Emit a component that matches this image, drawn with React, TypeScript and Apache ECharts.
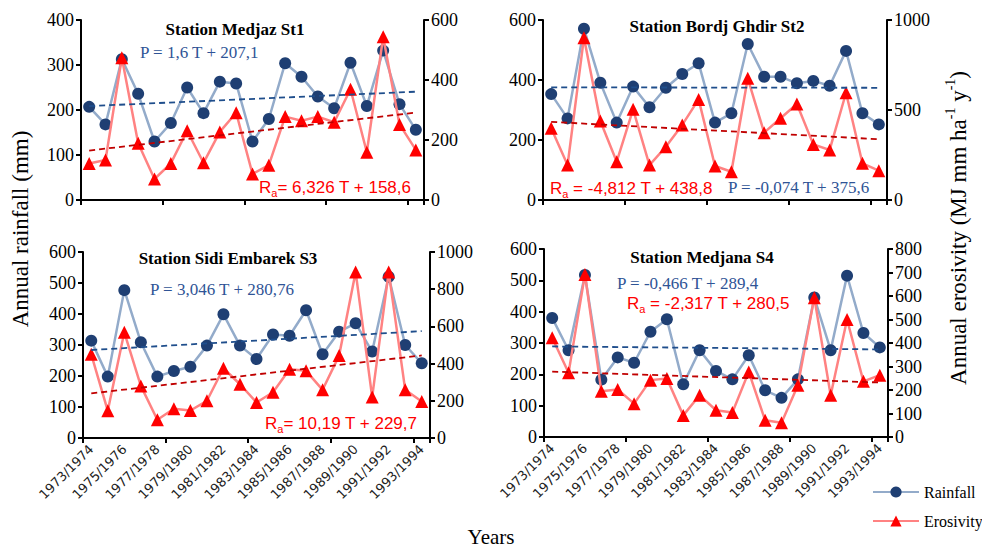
import React, { useEffect, useRef } from "react";
import * as echarts from "echarts";

const years = [
  "1973/1974", "1974/1975", "1975/1976", "1976/1977", "1977/1978", "1978/1979", "1979/1980",
  "1980/1981", "1981/1982", "1982/1983", "1983/1984", "1984/1985", "1985/1986", "1986/1987",
  "1987/1988", "1988/1989", "1989/1990", "1990/1991", "1991/1992", "1992/1993", "1993/1994",
];

const medjazRain = [207, 168, 313, 236, 130, 171, 250, 193, 263, 259, 130, 180, 304, 274, 230, 204, 305, 209, 332, 213, 156];
const medjazEro = [122, 133, 474, 189, 70, 122, 231, 124, 227, 291, 87, 116, 278, 264, 278, 259, 369, 159, 544, 252, 167];
const bordjRain = [353, 272, 571, 391, 258, 378, 309, 374, 420, 456, 258, 289, 520, 411, 411, 389, 397, 381, 497, 289, 252];
const bordjEro = [398, 194, 902, 439, 213, 504, 194, 296, 417, 559, 189, 157, 676, 374, 454, 533, 309, 278, 596, 204, 163];
const sidiRain = [314, 198, 477, 309, 198, 216, 230, 298, 399, 298, 255, 334, 330, 412, 270, 343, 370, 279, 520, 300, 241];
const sidiEro = [450, 146, 568, 280, 98, 157, 148, 200, 375, 289, 191, 246, 370, 361, 259, 443, 893, 220, 893, 259, 196];
const medjanaRain = [380, 277, 517, 183, 254, 237, 336, 376, 168, 277, 211, 184, 261, 149, 125, 184, 445, 277, 515, 332, 286];
const medjanaEro = [422, 273, 692, 195, 202, 142, 242, 249, 92, 178, 114, 104, 277, 71, 61, 220, 593, 178, 500, 237, 263];

// trend equations [slope, intercept] as printed on the chart (T = 1..21)
const medjazTrendP = [1.6, 207.1];
const medjazTrendR = [6.326, 158.6];
const bordjTrendP = [-0.074, 375.6];
const bordjTrendR = [-4.812, 438.8];
const sidiTrendP = [3.046, 280.76];
const sidiTrendR = [10.19, 229.7];
const medjanaTrendP = [-0.466, 289.4];
const medjanaTrendR = [-2.317, 280.5];

const titles = ["Station Medjaz St1", "Station Bordj Ghdir St2", "Station Sidi Embarek S3", "Station Medjana S4"];
const leftMax = [400, 600, 600, 600];
const leftInterval = [100, 200, 100, 100];
const rightMax = [600, 1000, 1000, 800];
const rightInterval = [200, 500, 200, 100];

const SERIF = "'Liberation Serif', 'Times New Roman', serif";
const SANS = "'Liberation Sans', Arial, sans-serif";
const RAIN_LINE = "#93ABCA";
const RAIN_MARK = "#1F3F73";
const ERO_LINE = "#FF8282";
const ERO_MARK = "#FF0000";
const P_TREND = "#1F4E8C";
const R_TREND = "#C00000";
const BLUE_TXT = "#2F5496";

export default function App() {
  const ref = useRef<HTMLDivElement>(null);
  useEffect(() => {
    if (!ref.current) return;
    const chart = echarts.init(ref.current, null, { renderer: "svg" });

    const grids = [
      { left: 81, top: 20, width: 343, height: 180 },
      { left: 543, top: 20, width: 344, height: 180 },
      { left: 83, top: 252, width: 347, height: 186 },
      { left: 544, top: 249, width: 344, height: 188 },
    ];
    const rains = [medjazRain, bordjRain, sidiRain, medjanaRain];
    const eros = [medjazEro, bordjEro, sidiEro, medjanaEro];
    const trendsP = [medjazTrendP, bordjTrendP, sidiTrendP, medjanaTrendP];
    const trendsR = [medjazTrendR, bordjTrendR, sidiTrendR, medjanaTrendR];

    const axisLine = { show: true, lineStyle: { color: "#000", width: 2 } };
    const axisTick = { show: true, length: 5, lineStyle: { color: "#000", width: 2 } };

    const xAxis = grids.map((_, gi) => ({
      type: "category",
      gridIndex: gi,
      data: years,
      boundaryGap: true,
      axisLine,
      axisTick: { ...axisTick, interval: (i: number) => i % 5 === 0 },
      axisLabel: {
        show: gi >= 2,
        interval: 1,
        rotate: 45,
        fontFamily: "'DejaVu Sans', sans-serif",
        fontSize: 13,
        color: "#222",
        margin: 9,
      },
      splitLine: { show: false },
    }));

    const numFmt = (v: number) => String(v);
    const yAxis: any[] = [];
    grids.forEach((_, gi) => {
      yAxis.push({
        type: "value", gridIndex: gi, position: "left", min: 0, max: leftMax[gi], interval: leftInterval[gi],
        axisLine, axisTick, splitLine: { show: false },
        axisLabel: { fontFamily: SERIF, fontSize: 18, color: "#000", margin: 7, formatter: numFmt },
      });
      yAxis.push({
        type: "value", gridIndex: gi, position: "right", min: 0, max: rightMax[gi], interval: rightInterval[gi],
        axisLine, axisTick, splitLine: { show: false },
        axisLabel: { fontFamily: SERIF, fontSize: 18, color: "#000", margin: 7, formatter: numFmt },
      });
    });

    const last = years.length - 1;
    const series: any[] = [];
    grids.forEach((_, gi) => {
      series.push({
        type: "line", name: "Rainfall", xAxisIndex: gi, yAxisIndex: 2 * gi, data: rains[gi],
        symbol: "circle", symbolSize: 12, showSymbol: true, showAllSymbol: true,
        lineStyle: { color: RAIN_LINE, width: 2.5 }, itemStyle: { color: RAIN_MARK }, z: 2,
      });
      series.push({
        type: "line", name: "Erosivity", xAxisIndex: gi, yAxisIndex: 2 * gi + 1, data: eros[gi],
        symbol: "triangle", symbolSize: 13, showSymbol: true, showAllSymbol: true,
        lineStyle: { color: ERO_LINE, width: 2.5 }, itemStyle: { color: ERO_MARK }, z: 3,
      });
      const p = trendsP[gi];
      const r = trendsR[gi];
      series.push({
        type: "line", name: "trendP" + gi, xAxisIndex: gi, yAxisIndex: 2 * gi,
        data: [[0, p[0] * 1 + p[1]], [last, p[0] * (last + 1) + p[1]]],
        symbol: "none", silent: true,
        lineStyle: { color: P_TREND, width: 1.8, type: [6, 4] }, z: 4,
      });
      series.push({
        type: "line", name: "trendR" + gi, xAxisIndex: gi, yAxisIndex: 2 * gi + 1,
        data: [[0, r[0] * 1 + r[1]], [last, r[0] * (last + 1) + r[1]]],
        symbol: "none", silent: true,
        lineStyle: { color: R_TREND, width: 1.8, type: [6, 4] }, z: 4,
      });
    });

    const rich = (color: string) => ({
      r: { fontFamily: SANS, fontSize: 17, lineHeight: 22, fill: color, color },
      s: { fontFamily: SANS, fontSize: 11, lineHeight: 12, verticalAlign: "bottom", fill: color, color },
    });
    const eqP = (x: number, y: number, text: string) => ({
      type: "text", x, y,
      style: { text, fontFamily: SERIF, fontSize: 17, fill: BLUE_TXT, align: "left", verticalAlign: "middle", textAlign: "left", textVerticalAlign: "middle" },
    });
    const eqR = (x: number, y: number, text: string) => ({
      type: "text", x, y,
      style: {
        text: "{r|R}{s|a}{r|" + text + "}", fontFamily: SANS, fontSize: 17, fill: ERO_MARK,
        align: "left", verticalAlign: "middle", textAlign: "left", textVerticalAlign: "middle", rich: rich(ERO_MARK),
      },
    });
    const titleAt = (x: number, y: number, text: string) => ({
      type: "text", x, y,
      style: { text, fontFamily: SERIF, fontSize: 17, fontWeight: "bold", fill: "#000", align: "center", verticalAlign: "middle", textAlign: "center", textVerticalAlign: "middle" },
    });

    const graphic: any[] = [
      titleAt(235, 29, titles[0]),
      titleAt(717, 26, titles[1]),
      titleAt(228, 258, titles[2]),
      titleAt(702, 257, titles[3]),
      eqP(140, 52, "P = 1,6 T + 207,1"),
      eqR(259, 187, "= 6,326 T + 158,6"),
      eqR(550, 188, " = -4,812 T + 438,8"),
      eqP(728, 187, "P = -0,074 T + 375,6"),
      eqP(150, 289, "P = 3,046 T + 280,76"),
      eqR(265, 423, "= 10,19 T + 229,7"),
      eqP(617, 283, "P = -0,466 T + 289,4"),
      eqR(627, 303, " = -2,317 T + 280,5"),
      {
        type: "text", x: 20, y: 229, rotation: Math.PI / 2,
        style: { text: "Annual rainfall (mm)", fontFamily: SERIF, fontSize: 23, fill: "#000", align: "center", verticalAlign: "middle", textAlign: "center", textVerticalAlign: "middle" },
      },
      {
        type: "text", x: 958, y: 228, rotation: Math.PI / 2,
        style: {
          text: "{m|Annual erosivity (MJ mm ha}{u|-1}{m| y}{u|-1}{m|)}",
          fontFamily: SERIF, fontSize: 23, fill: "#000",
          align: "center", verticalAlign: "middle", textAlign: "center", textVerticalAlign: "middle",
          rich: {
            m: { fontFamily: SERIF, fontSize: 23, lineHeight: 30, fill: "#000", color: "#000" },
            u: { fontFamily: SERIF, fontSize: 14, lineHeight: 16, verticalAlign: "top", fill: "#000", color: "#000" },
          },
        },
      },
      {
        type: "text", x: 491, y: 537,
        style: { text: "Years", fontFamily: SERIF, fontSize: 21, fill: "#000", align: "center", verticalAlign: "middle", textAlign: "center", textVerticalAlign: "middle" },
      },
    ];

    chart.setOption({
      animation: false,
      backgroundColor: "#fff",
      grid: grids,
      xAxis,
      yAxis,
      series,
      legend: {
        data: ["Rainfall", "Erosivity"],
        orient: "vertical",
        left: 872,
        top: 484,
        itemWidth: 46,
        itemHeight: 14,
        itemGap: 13,
        padding: 0,
        textStyle: { fontFamily: SERIF, fontSize: 16, color: "#000" },
        selectedMode: false,
      },
      graphic,
    } as any);

    return () => chart.dispose();
  }, []);

  return (
    <div
      ref={ref}
      style={{ position: "fixed", left: 0, top: 0, width: 982, height: 548, background: "#fff" }}
    />
  );
}
